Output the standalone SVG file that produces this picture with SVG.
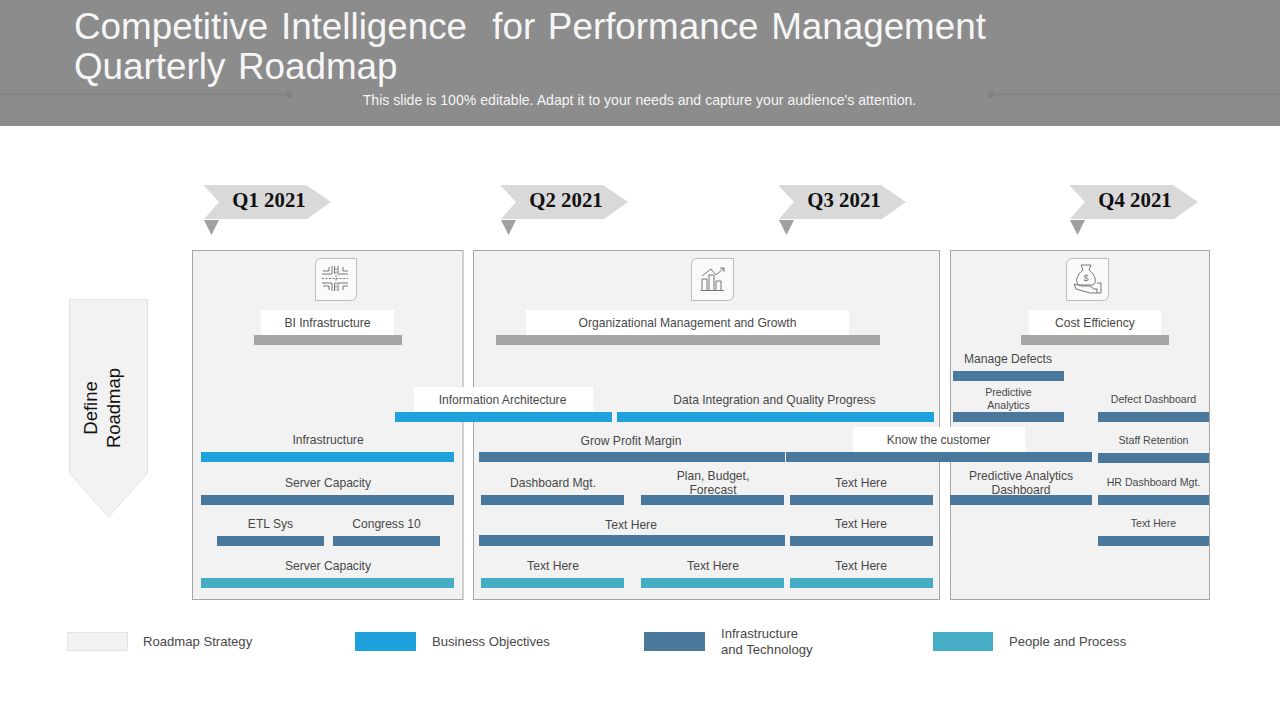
<svg xmlns="http://www.w3.org/2000/svg" width="1280" height="720" viewBox="0 0 1280 720">
<style>
text{font-family:"Liberation Sans",Arial,sans-serif;fill:#484848;font-size:12.100px;text-anchor:middle}
.title{fill:#f6f6f6;font-size:36.800px;text-anchor:start;word-spacing:2.400px;white-space:pre}
.sub{fill:#f4f4f4;font-size:14.100px}
.q{font-family:"Liberation Serif","Times New Roman",serif;font-weight:bold;font-size:20.800px;fill:#111}
.panel{fill:#f2f2f2;stroke:#a6a6a6;stroke-width:1}
.lab{fill:#fff}
.gray{fill:#a6a6a6}.blue{fill:#1fa1db}.dark{fill:#4a779c}.teal{fill:#45adc4}
.ar{fill:#d9d9d9}.tri{fill:#a0a0a0}
.ibox{fill:#fafafa;stroke:#bdbdbd;stroke-width:1}
.ic{fill:none;stroke:#777;stroke-width:1}
.leg{text-anchor:start;font-size:13.100px}
.sm{font-size:10.600px}
.def{font-size:18.500px;fill:#111}
</style>
<rect width="1280" height="720" fill="#fff"/>
<g id="header">
<rect width="1280" height="126" fill="#8c8c8c"/>
<path d="M0 94.500H289M991 94.500H1280" stroke="#818181" stroke-width="1.500"/>
<circle cx="289" cy="94.500" r="3.500" fill="#818181"/><circle cx="991" cy="94.500" r="3.500" fill="#818181"/>
<text class="title" x="74" y="39" xml:space="preserve">Competitive Intelligence  for Performance Management</text>
<text class="title" x="74" y="79">Quarterly Roadmap</text>
<text class="sub" x="639.500" y="105">This slide is 100% editable. Adapt it to your needs and capture your audience's attention.</text>
</g>
<g id="define-roadmap">
<polygon points="69.500,299.500 147.500,299.500 147.500,473 108.500,517 69.500,473" fill="#f2f2f2" stroke="#e2e2e2"/>
<text class="def" transform="translate(97,408) rotate(-90)">Define</text>
<text class="def" transform="translate(119.500,408) rotate(-90)">Roadmap</text>
</g>
<g id="q1"><polygon class="ar" points="203,185 306,185 331,202 307,219 204,219 219,202"/><polygon class="tri" points="204,220 219,220 211.500,235"/><text class="q" x="269" y="207">Q1 2021</text></g>
<g id="q2"><polygon class="ar" points="500,185 603,185 628,202 604,219 501,219 516,202"/><polygon class="tri" points="501,220 516,220 508.500,235"/><text class="q" x="566" y="207">Q2 2021</text></g>
<g id="q3"><polygon class="ar" points="778,185 881,185 906,202 882,219 779,219 794,202"/><polygon class="tri" points="779,220 794,220 786.500,235"/><text class="q" x="844" y="207">Q3 2021</text></g>
<g id="q4"><polygon class="ar" points="1069,185 1173,185 1198,202 1174,219 1070,219 1085,202"/><polygon class="tri" points="1070,220 1085,220 1077.500,235"/><text class="q" x="1135" y="207">Q4 2021</text></g>
<g id="panels">
<rect class="panel" x="192.500" y="250.500" width="270.500" height="349"/>
<rect class="panel" x="473.500" y="250.500" width="466" height="349"/>
<rect class="panel" x="950.500" y="250.500" width="259" height="349"/>
</g>
<g id="icon-bi">
<path class="ibox" d="M322 258.500H356.500V294Q356.500 300.500 350 300.500H315.500V265Q315.500 258.500 322 258.500Z"/>
<path class="ic" d="M322 274H332V266M334.500 266V274M338 266V274H348M322 283H332V291M334.500 283V291M338 291V283H348M329 267V271H323M343 267V271H348M329 290V286H323M343 290V286H348"/>
<path class="ic" d="M322 278.500H348" stroke-dasharray="2 1.500"/>
<path class="ic" d="M336 268V290" stroke-dasharray="2 1.500"/>
</g>
<g id="icon-org">
<path class="ibox" d="M698 258.500H733.500V294Q733.500 300.500 727 300.500H691.500V265Q691.500 258.500 698 258.500Z"/>
<path class="ic" d="M702 290V279H707V290M709 290V275H714V290M716 290V281H721V290M702 276L711 269L716 275L724 268M720 268H724V272M700.500 290.500H724"/>
</g>
<g id="icon-cost">
<path class="ibox" d="M1073 258.500H1108.500V294Q1108.500 300.500 1102 300.500H1066.500V265Q1066.500 258.500 1073 258.500Z"/>
<path class="ic" d="M1081 265H1091L1089 270C1096 275 1097 283 1093 285H1079C1075 283 1076 275 1083 270ZM1074 284L1082 286H1090L1094 289H1097V293H1090L1083 291L1076 289ZM1097 283H1101V293H1097"/>
<text x="1086" y="281" style="font-size:9px;fill:#777">$</text>
</g>
<g id="bi-infrastructure"><rect class="lab" x="261" y="310" width="133" height="25"/><rect class="gray" x="254" y="335" width="148" height="10"/><text x="327.500" y="327">BI Infrastructure</text></g>
<g id="org-growth"><rect class="lab" x="526" y="310" width="323" height="25"/><rect class="gray" x="496" y="335" width="384" height="10"/><text x="687.500" y="327">Organizational Management and Growth</text></g>
<g id="cost-efficiency"><rect class="lab" x="1029" y="310" width="132" height="25"/><rect class="gray" x="1021" y="335" width="148" height="10"/><text x="1095" y="327">Cost Efficiency</text></g>
<g id="information-architecture"><rect class="lab" x="414" y="387" width="179" height="25"/><rect class="blue" x="395" y="412" width="217" height="10"/><text x="502.500" y="404">Information Architecture</text></g>
<g id="data-integration"><rect class="blue" x="617" y="412" width="317" height="10"/><text x="774.500" y="404">Data Integration and Quality Progress</text></g>
<g id="infrastructure"><rect class="blue" x="201" y="452" width="253" height="10"/><text x="328" y="444">Infrastructure</text></g>
<g id="server-capacity-1"><rect class="dark" x="201" y="495" width="253" height="10"/><text x="328" y="487">Server Capacity</text></g>
<g id="etl-sys"><rect class="dark" x="217" y="536" width="107" height="10"/><text x="270.500" y="528">ETL Sys</text></g>
<g id="congress-10"><rect class="dark" x="333" y="536" width="107" height="10"/><text x="386.500" y="528">Congress 10</text></g>
<g id="server-capacity-2"><rect class="teal" x="201" y="578" width="253" height="10"/><text x="328" y="570">Server Capacity</text></g>
<g id="grow-profit"><rect class="dark" x="479" y="452" width="306" height="10"/><text x="631" y="444.500">Grow Profit Margin</text></g>
<g id="know-customer"><rect class="lab" x="853" y="427" width="172" height="25"/><rect class="dark" x="786" y="452" width="306" height="10"/><text x="938.500" y="444">Know the customer</text></g>
<g id="dashboard-mgt"><rect class="dark" x="481" y="495" width="143" height="10"/><text x="553" y="487">Dashboard Mgt.</text></g>
<g id="plan-budget"><rect class="dark" x="641" y="495" width="143" height="10"/><text x="713" y="480">Plan, Budget,</text><text x="713" y="494">Forecast</text></g>
<g id="text-q3-1"><rect class="dark" x="790" y="495" width="143" height="10"/><text x="861" y="487">Text Here</text></g>
<g id="text-wide"><rect class="dark" x="479" y="535" width="306" height="11"/><text x="631" y="529">Text Here</text></g>
<g id="text-q3-2"><rect class="dark" x="790" y="536" width="143" height="10"/><text x="861" y="528">Text Here</text></g>
<g id="text-teal-1"><rect class="teal" x="481" y="578" width="143" height="10"/><text x="553" y="570">Text Here</text></g>
<g id="text-teal-2"><rect class="teal" x="641" y="578" width="143" height="10"/><text x="713" y="570">Text Here</text></g>
<g id="text-teal-3"><rect class="teal" x="790" y="578" width="143" height="10"/><text x="861" y="570">Text Here</text></g>
<g id="manage-defects"><rect class="dark" x="953" y="371" width="111" height="10"/><text x="1008" y="363">Manage Defects</text></g>
<g id="predictive-analytics"><rect class="dark" x="953" y="412" width="111" height="10"/><text class="sm" x="1008.500" y="396">Predictive</text><text class="sm" x="1008.500" y="409">Analytics</text></g>
<g id="defect-dashboard"><rect class="dark" x="1098" y="412" width="111" height="10"/><text class="sm" x="1153.500" y="403">Defect Dashboard</text></g>
<g id="staff-retention"><rect class="dark" x="1098" y="453" width="111" height="10"/><text class="sm" x="1153.500" y="444">Staff Retention</text></g>
<g id="pa-dashboard"><rect class="dark" x="950" y="495" width="142" height="10"/><text x="1021" y="480">Predictive Analytics</text><text x="1021" y="494">Dashboard</text></g>
<g id="hr-dashboard"><rect class="dark" x="1098" y="495" width="111" height="10"/><text class="sm" x="1153.500" y="486">HR Dashboard Mgt.</text></g>
<g id="text-q4"><rect class="dark" x="1098" y="536" width="111" height="10"/><text class="sm" x="1153.500" y="527">Text Here</text></g>
<g id="legend">
<rect x="67.500" y="632.500" width="60" height="18" fill="#f2f2f2" stroke="#e2e2e2"/><text class="leg" x="143" y="646">Roadmap Strategy</text>
<rect class="blue" x="355" y="632" width="61" height="19"/><text class="leg" x="432" y="646">Business Objectives</text>
<rect class="dark" x="644" y="632" width="61" height="19"/><text class="leg" x="721" y="638">Infrastructure</text><text class="leg" x="721" y="654">and Technology</text>
<rect class="teal" x="933" y="632" width="60" height="19"/><text class="leg" x="1009" y="646">People and Process</text>
</g>
<g id="connectors"/>
</svg>
